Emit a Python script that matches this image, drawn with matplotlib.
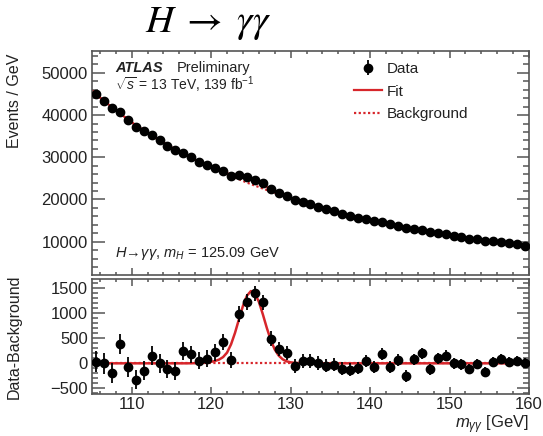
import matplotlib.pyplot as plt
import numpy as np
from matplotlib.ticker import MultipleLocator

plt.rcParams['font.family'] = ['Liberation Sans', 'DejaVu Sans']
plt.rcParams['mathtext.fontset'] = 'custom'
plt.rcParams['mathtext.rm'] = 'Liberation Sans'
plt.rcParams['mathtext.it'] = 'Liberation Sans:italic'
plt.rcParams['mathtext.bf'] = 'Liberation Sans:bold'

# 1 GeV bins, 105-160 GeV
mass = np.arange(105.5, 160.0, 1.0)

# background fit at the bin centres (events / GeV)
bkg = [45000, 43400, 41900, 40400, 39000, 37600, 36400, 35200, 34000, 32900,
       31800, 30800, 29800, 28900, 28000, 27200, 26400, 25600, 24800, 24000,
       23300, 22600, 21900, 21300, 20600, 20000, 19400, 18800, 18250, 17700,
       17200, 16700, 16250, 15800, 15350, 14950, 14550, 14150, 13750, 13370,
       13000, 12650, 12330, 12000, 11700, 11400, 11120, 10840, 10570, 10310,
       10050, 9800, 9550, 9300, 9050]
# background at the edges of the range
edge_mass = [105.0, 160.0]
edge_bkg = [45800, 8930]

# data - background
resid = [30, 0, -190, 390, -80, -330, -150, 150, 0, -120,
         -150, 250, 180, 50, 90, 220, 430, 70, 980, 1230,
         1400, 1220, 490, 290, 210, -50, 50, 50, 10, -50,
         -30, -110, -130, -90, 50, -70, 180, -70, 70, -250,
         80, 200, -120, 100, 150, 0, -20, -110, -10, -170,
         20, 80, 20, 50, 10]

# signal part of the fit
sig_mass = [105, 117, 118, 118.5, 119, 119.5, 120, 120.5, 121, 121.5, 122, 122.5,
            123, 123.5, 124, 124.5, 125, 125.5, 126, 126.5, 127, 127.5, 128,
            128.5, 129, 129.5, 130, 130.5, 131, 132, 133, 160]
sig_vals = [0, 0, 3, 6, 11, 18, 30, 48, 75, 125, 215, 380,
            610, 885, 1150, 1355, 1448, 1403, 1234, 984, 711, 466, 277,
            155, 80, 40, 20, 10, 5, 2, 0, 0]

bkg = np.array(bkg, dtype=float)
resid = np.array(resid, dtype=float)
data = bkg + resid
err = np.sqrt(data)

bkg_m = np.concatenate([[edge_mass[0]], mass, [edge_mass[1]]])
bkg_v = np.concatenate([[edge_bkg[0]], bkg, [edge_bkg[1]]])
curve_m = np.union1d(bkg_m, sig_mass)
bkg_c = np.interp(curve_m, bkg_m, bkg_v)
sig_c = np.interp(curve_m, sig_mass, sig_vals)

red = '#d7262b'
txt = '#222222'
dot = (0, (1.0, 1.1))

fig = plt.figure(figsize=(5.43, 4.36), dpi=100)
ax1 = fig.add_axes([0.1694, 0.3693, 0.8048, 0.5138])
ax2 = fig.add_axes([0.1694, 0.0963, 0.8048, 0.2638])

# top panel
ax1.plot(curve_m, bkg_c, color=red, lw=1.6, ls=dot, label='Background', zorder=2)
ax1.plot(curve_m, bkg_c + sig_c, color=red, lw=1.6, label='Fit', zorder=2)
ax1.errorbar(mass, data, yerr=err, fmt='o', color='black', ms=6, lw=1.3,
             capsize=0, label='Data', zorder=3)
ax1.set_xlim(105, 160)
ax1.set_ylim(2100, 55200)
ax1.yaxis.set_major_locator(MultipleLocator(10000))
ax1.yaxis.set_minor_locator(MultipleLocator(2000))

h, l = ax1.get_legend_handles_labels()
order = [l.index('Data'), l.index('Fit'), l.index('Background')]
ax1.legend([h[i] for i in order], [l[i] for i in order], loc='upper left',
           bbox_to_anchor=(0.6, 0.95), frameon=False, fontsize=11,
           handlelength=1.8, handletextpad=0.35, labelspacing=0.55,
           borderpad=0, borderaxespad=0, labelcolor=txt)

ax1.text(0.0526, 0.926, 'ATLAS', transform=ax1.transAxes, fontsize=10.5,
         fontweight='bold', fontstyle='italic', color=txt, va='center')
ax1.text(0.1945, 0.926, 'Preliminary', transform=ax1.transAxes, fontsize=10.5,
         color=txt, va='center')
ax1.text(0.0526, 0.848, r'$\sqrt{s}$ = 13 TeV, 139 fb$^{-1}$', transform=ax1.transAxes,
         fontsize=10, color=txt, va='center')
ax1.text(0.0526, 0.098, r'$H\!\rightarrow\!\gamma\gamma$, $m_H$ = 125.09 GeV',
         transform=ax1.transAxes, fontsize=10.5, color=txt, va='center')

ax1.set_ylabel('Events / GeV', fontsize=11.5, color=txt, loc='top')
ax1.yaxis.set_label_coords(-0.16, 0.99)
ax1.tick_params(labelbottom=False)

# bottom panel
ax2.plot(curve_m, np.zeros_like(curve_m), color=red, lw=1.6, ls=dot, zorder=2)
ax2.plot(curve_m, sig_c, color=red, lw=1.8, zorder=2)
ax2.errorbar(mass, resid, yerr=err, fmt='o', color='black', ms=6, lw=1.3,
             capsize=0, zorder=3)
ax2.set_xlim(105, 160)
ax2.set_ylim(-615, 1690)
ax2.yaxis.set_major_locator(MultipleLocator(500))
ax2.yaxis.set_minor_locator(MultipleLocator(100))
ax2.set_ylabel('Data-Background', fontsize=11.5, color=txt)
ax2.yaxis.set_label_coords(-0.16, 0.5)
ax2.set_xlabel(r'$m_{\gamma\gamma}$ [GeV]', fontsize=12, color=txt, loc='right')
ax2.xaxis.set_label_coords(1.0, -0.17)

for ax in (ax1, ax2):
    ax.xaxis.set_major_locator(MultipleLocator(10))
    ax.xaxis.set_minor_locator(MultipleLocator(2))
    ax.tick_params(which='both', direction='in', top=True, right=True,
                   color='#555555', labelsize=12, labelcolor=txt, width=1.1)
    ax.tick_params(axis='y', which='major', length=9, pad=3)
    ax.tick_params(axis='y', which='minor', length=4.5)
    ax.tick_params(axis='x', which='major', length=5, pad=2)
    ax.tick_params(axis='x', which='minor', length=2.5)
    for s in ax.spines.values():
        s.set_color('#555555')
        s.set_linewidth(1.2)

fig.text(0.383, 0.926, r'$H\;\rightarrow\;\gamma\gamma$', fontsize=28,
         math_fontfamily='stix', ha='center', va='baseline', color='black')

fig.savefig('out.png', dpi=100)
